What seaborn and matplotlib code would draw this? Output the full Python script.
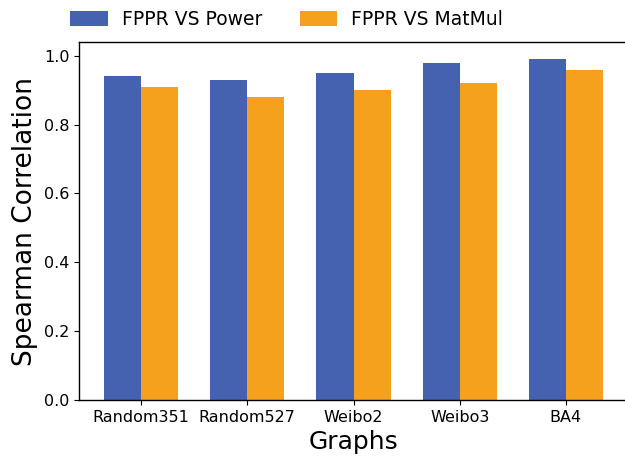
import matplotlib
matplotlib.use("Agg")
import matplotlib.pyplot as plt
import seaborn as sns
import pandas as pd

graphs = ["Random351", "Random527", "Weibo2", "Weibo3", "BA4"]
power = [0.94, 0.93, 0.95, 0.98, 0.99]
matmul = [0.91, 0.88, 0.90, 0.92, 0.96]
series = ["FPPR VS Power", "FPPR VS MatMul"]
colors = ["#4462B0", "#F5A11E"]

df = pd.DataFrame({
    "Graphs": graphs * 2,
    "value": power + matmul,
    "series": [series[0]] * len(graphs) + [series[1]] * len(graphs),
})

sns.set_style("ticks", rc={"text.color": "black", "axes.labelcolor": "black",
                           "xtick.color": "black", "ytick.color": "black",
                           "axes.edgecolor": "black"})
plt.rcParams['font.family'] = ['DejaVu Sans']

fig = plt.figure(figsize=(6.25, 4.61), dpi=100)
ax = fig.add_axes([79/625, 61/461, 549/625, 358/461])
sns.barplot(data=df, x="Graphs", y="value", hue="series", palette=colors,
            width=0.7, saturation=1, ax=ax, errorbar=None, linewidth=0)
ax.set_xlim(-0.585, 4.585)
ax.set_ylim(0, 1.04)
ax.set_yticks([0, 0.2, 0.4, 0.6, 0.8, 1.0])
ax.tick_params(axis="both", labelsize=11.5, colors="black")
ax.set_xlabel("Graphs", fontsize=18)
ax.set_ylabel("Spearman Correlation", fontsize=19)
for s in ax.spines.values():
    s.set_linewidth(1.0)
leg = ax.legend(loc="lower center", bbox_to_anchor=(0.378, 1.0), ncol=2, frameon=False,
                fontsize=13.5, handlelength=2.0, handleheight=0.85, columnspacing=2.0,
                handletextpad=0.75, borderaxespad=0.3)
fig.savefig("out.png", dpi=100)
